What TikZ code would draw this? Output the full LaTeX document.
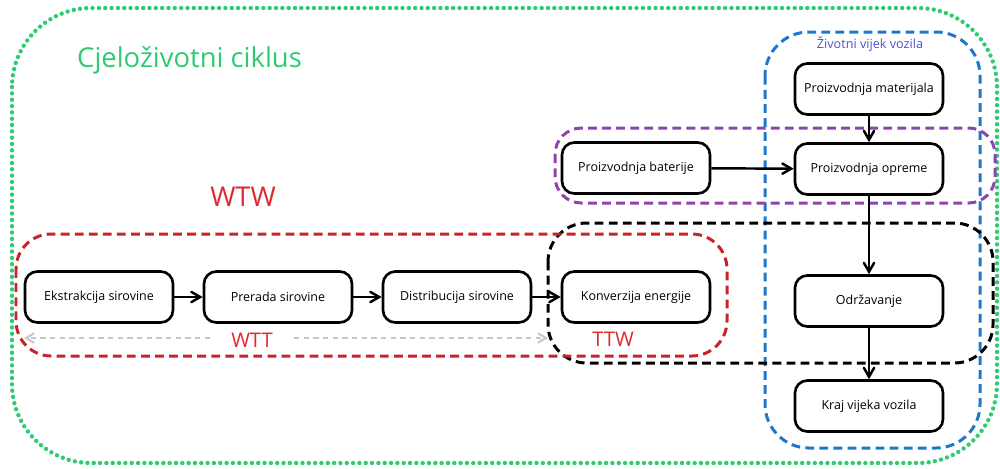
\documentclass[tikz,border=0pt]{standalone}
\usepackage{fontspec}
\setmainfont{Open Sans}
\usetikzlibrary{arrows}
\definecolor{emerald}{RGB}{46, 204, 113}
\definecolor{pomegranate}{RGB}{200, 35, 40}
\definecolor{belizehole}{RGB}{30, 120, 200}
\definecolor{wisteria}{RGB}{142, 68, 173}
\definecolor{indigoish}{RGB}{80, 80, 200}
\definecolor{redtext}{RGB}{225, 40, 45}

\tikzset{
  stage/.style={draw, rounded corners=7pt, line width=1.5pt, minimum width=2.96cm,
                minimum height=1.02cm, font=\fontsize{7.1}{9}\selectfont, inner sep=2pt},
  flow/.style={-angle 60, line width=1.4pt},
  grp/.style={dashed, line width=1.7pt, dash pattern=on 5pt off 3pt},
  wttline/.style={gray!45, line width=1.1pt, dash pattern=on 3pt off 2.5pt, -angle 60}
}

\begin{document}
\begin{tikzpicture}[x=0.02cm, y=-0.02cm]
            % Frame to ensure alignment:
            \useasboundingbox (0,0) rectangle (1000,468);
            \draw[emerald, line width=2.5pt, line cap=round, dash pattern=on 0pt off 3.6pt,
                  rounded corners=45] (12,8) rectangle (997,463);
            \node[emerald, anchor=west, font=\fontsize{15.6}{18}\selectfont] (ciklus) at (71,60) {Cjeloživotni ciklus};

            % Groups
            \draw[grp, belizehole, rounded corners=25] (765,32) rectangle (980,448);
            \draw[grp, wisteria,   rounded corners=15] (555,128) rectangle (995,203);
            \draw[grp, black,      rounded corners=22] (548,223) rectangle (993,363);
            \draw[grp, pomegranate,rounded corners=20] (16,234) rectangle (727,356);
            \node[indigoish, font=\fontsize{7.2}{8}\selectfont] (vijek) at (870,44) {Životni vijek vozila};
            \node[redtext, font=\fontsize{15.5}{17}\selectfont] (wtw) at (243,197) {WTW};
            \node[redtext, font=\fontsize{11.5}{13}\selectfont, inner xsep=12pt] (wtt) at (252,340) {WTT};
            \node[redtext, font=\fontsize{11.5}{13}\selectfont] (ttw) at (613,339) {TTW};

            % Stages
            \node[stage] (ekst) at (99,297)  {Ekstrakcija sirovine};
            \node[stage] (prer) at (278,297) {Prerada sirovine};
            \node[stage] (dist) at (457,297) {Distribucija sirovine};
            \node[stage] (konv) at (636,297) {Konverzija energije};
            \node[stage] (mat)  at (869,89)  {Proizvodnja materijala};
            \node[stage] (bat)  at (636,168) {Proizvodnja baterije};
            \node[stage] (opr)  at (869,169) {Proizvodnja opreme};
            \node[stage] (odr)  at (869,301) {Održavanje};
            \node[stage] (kraj) at (869,406) {Kraj vijeka vozila};

            \draw[flow] (ekst) -- (prer);
            \draw[flow] (prer) -- (dist);
            \draw[flow] (dist) -- (konv);
            \draw[flow] (bat)  -- (opr);
            \draw[flow] (mat)  -- (opr);
            \draw[flow] (opr)  -- (odr);
            \draw[flow] (odr)  -- (kraj);

            \coordinate (wttL) at (24,338);
            \coordinate (wttR) at (548,338);
            \draw[wttline] (wtt.west |- wttL) -- (wttL);
            \draw[wttline] (wtt.east |- wttR) -- (wttR);
        \end{tikzpicture}
\end{document}
